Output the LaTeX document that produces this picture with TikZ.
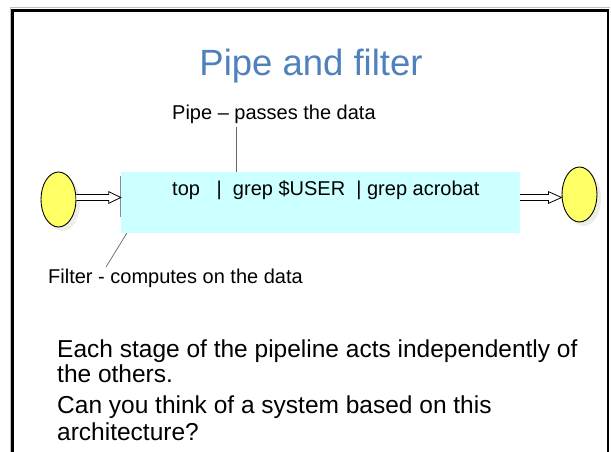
\documentclass[tikz,border=0pt]{standalone}
\usepackage{fontspec}
\setmainfont{Liberation Sans}
\usetikzlibrary{shapes.geometric,shadows,calc}
\definecolor{titleblue}{RGB}{79,129,189}
\definecolor{boxcyan}{RGB}{204,255,255}
\definecolor{ovalyellow}{RGB}{255,255,102}
\definecolor{shadowgray}{RGB}{238,238,232}
\begin{document}
\begin{tikzpicture}[x=1pt,y=-1pt,
  txt/.style={inner sep=0pt, anchor=base west, font=\fontsize{20}{24}\selectfont},
  body/.style={inner sep=0pt, anchor=base west, font=\fontsize{24.5}{29}\selectfont},
  oval/.style={ellipse, draw=black, line width=0.9pt, fill=ovalyellow, minimum width=35pt, minimum height=55pt, inner sep=0pt,
    drop shadow={shadow xshift=4pt, shadow yshift=-4pt, fill=shadowgray, opacity=1}},
  blockarrow/.style={draw=black, line width=0.8pt, fill=white, line join=miter},
  leader/.style={draw=black!60, line width=0.7pt}]
\useasboundingbox (0,0) rectangle (611,452);
\fill[white] (0,0) rectangle (611,452);
% frame
\draw[black!25, line width=0.8pt] (10,452) -- (10,7.5) -- (609.8,7.5);
\draw[black, line width=2.8pt] (12.8,452) -- (12.8,10.3) -- (608,10.3) -- (608,452);
% title
\node[font=\fontsize{36.5}{40}\selectfont, text=titleblue, anchor=base, inner sep=0pt] (title) at (311,76) {Pipe and filter};
% box
\node[fill=boxcyan, minimum width=399pt, minimum height=61pt, inner sep=0pt] (box) at (320.5,202.5) {};
\draw[black!45, line width=0.8pt] ([xshift=-0.5pt,yshift=-4pt]box.north west) -- ([xshift=-0.5pt,yshift=16pt]box.south west);
\node[txt] (cmd) at (172,195) {top\ \ \ |\ \ grep \$USER\ \ | grep acrobat};
% ovals
\node[oval] (src) at (58.5,199.5) {};
\node[oval] (snk) at (579.5,194.5) {};
% arrows
\coordinate (la) at (src.east |- 0,197.5);
\coordinate (lb) at (box.west |- 0,197.5);
\draw[blockarrow] ($(la)+(0,-3)$) -- ($(lb)+(-12,-3)$) -- ($(lb)+(-12,-5.8)$) -- (lb) -- ($(lb)+(-12,5.8)$) -- ($(lb)+(-12,3)$) -- ($(la)+(0,3)$);
\coordinate (ra) at (box.east |- 0,197.5);
\coordinate (rb) at (snk.west |- 0,197.5);
\draw[blockarrow] ($(ra)+(0,-3)$) -- ($(rb)+(-13,-3)$) -- ($(rb)+(-13,-5.8)$) -- (rb) -- ($(rb)+(-13,5.8)$) -- ($(rb)+(-13,3)$) -- ($(ra)+(0,3)$);
% pipe label
\node[txt] (plabel) at (172,120) {Pipe – passes the data};
\coordinate (pt) at (236,127);
\draw[leader] (pt) -- (pt |- box.north);
% filter label
\node[txt] (flabel) at (48,283) {Filter - computes on the data};
\coordinate (ft) at (106,267);
\draw[leader] (ft) -- ([xshift=6pt]box.south west);
% body text
\node[body] (b1) at (57,357.5) {Each stage of the pipeline acts independently of};
\node[body] (b2) at (57,382.5) {the others.};
\node[body] (b3) at (57,413.5) {Can you think of a system based on this};
\node[body] (b4) at (57,440.5) {architecture?};
\end{tikzpicture}
\end{document}
